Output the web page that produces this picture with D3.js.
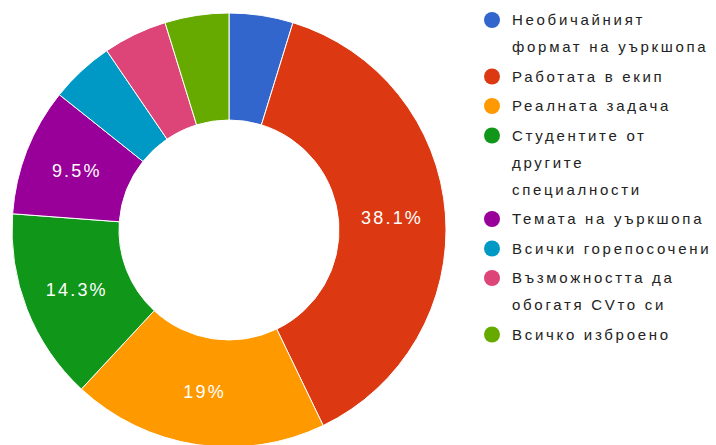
<!DOCTYPE html>
<html><head><meta charset="utf-8">
<script src="https://cdn.jsdelivr.net/npm/d3@7"></script>
<style>body{margin:0;background:#fff;}svg{display:block;font-family:Arial,"Liberation Sans",sans-serif;}</style>
</head><body>
<svg id="c" width="716" height="445"></svg>
<script>
const categories = [
  ["Необичайният", "формат на уъркшопа"],
  ["Работата в екип"],
  ["Реалната задача"],
  ["Студентите от", "другите", "специалности"],
  ["Темата на уъркшопа"],
  ["Всички горепосочени"],
  ["Възможността да", "обогатя CVто си"],
  ["Всичко изброено"]
];
const values = [1, 8, 4, 3, 2, 1, 1, 1];
const colors = ["#3366cc", "#dc3912", "#ff9900", "#109618", "#990099", "#0099c6", "#dd4477", "#66aa00"];

const svg = d3.select("#c");
const cx = 229, cy = 230, R = 217, r = 110;
const total = d3.sum(values);
const pie = d3.pie().sort(null).value(d => d)(values);
const arc = d3.arc().innerRadius(r).outerRadius(R);
const g = svg.append("g").attr("transform", `translate(${cx},${cy})`);
g.selectAll("path").data(pie).join("path")
  .attr("d", arc).attr("fill", (d, i) => colors[i])
  .attr("stroke", "#fff").attr("stroke-width", 1);
const fmt = v => { const p = Math.round(v / total * 1000) / 10; return (p % 1 === 0 ? p.toFixed(0) : p.toFixed(1)) + "%"; };
g.selectAll("text").data(pie.filter(d => d.data / total > 0.06)).join("text")
  .attr("transform", d => `translate(${arc.centroid(d)})`)
  .attr("text-anchor", "middle").attr("dy", "0.36em")
  .attr("fill", "#fff").attr("font-size", 18).attr("letter-spacing", 2.2)
  .text(d => fmt(d.data));

// legend
const lx = 492, tx = 512;
let y = 20;
const lg = svg.append("g");
categories.forEach((lines, i) => {
  lg.append("circle").attr("cx", lx).attr("cy", y).attr("r", 8).attr("fill", colors[i]);
  lines.forEach((t, j) => {
    lg.append("text").attr("x", tx).attr("y", y + j * 27).attr("dy", "0.36em")
      .attr("font-size", 15).attr("fill", "#222").attr("letter-spacing", 2.7).text(t);
  });
  y += (lines.length - 1) * 27 + 29.5;
});
</script>
</body></html>
